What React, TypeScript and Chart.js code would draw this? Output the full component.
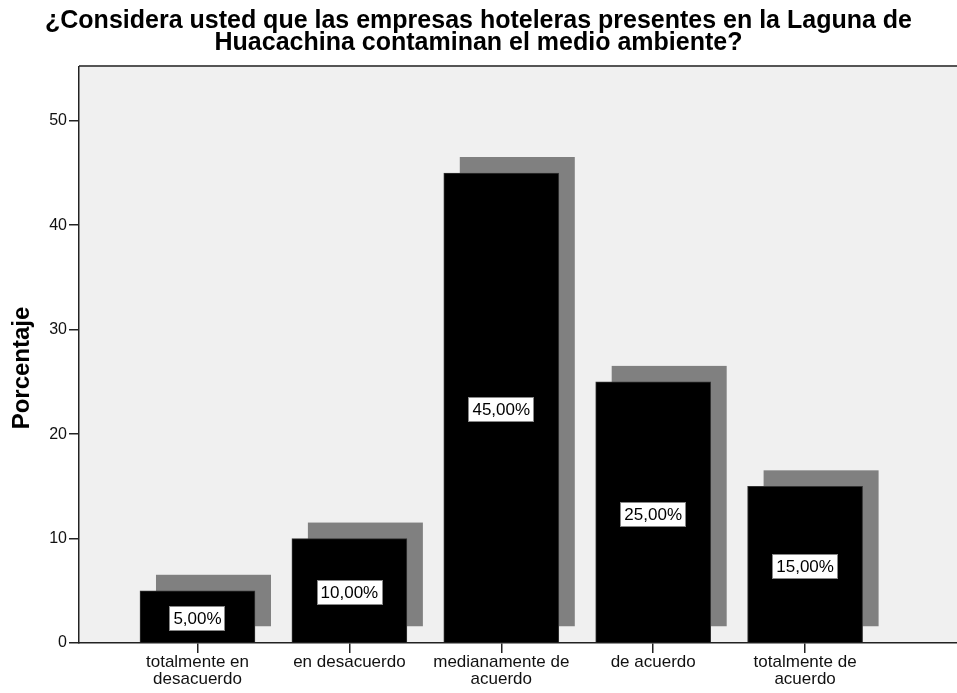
import React, { useEffect, useRef } from 'react';
import { Chart, registerables } from 'chart.js';

Chart.register(...registerables);

const categories: string[][] = [
  ['totalmente en', 'desacuerdo'],
  ['en desacuerdo'],
  ['medianamente de', 'acuerdo'],
  ['de acuerdo'],
  ['totalmente de', 'acuerdo'],
];
const percentages: number[] = [5, 10, 45, 25, 15];
const yTickValues: number[] = [0, 10, 20, 30, 40, 50];
const titleLines: string[] = [
  '¿Considera usted que las empresas hoteleras presentes en la Laguna de',
  'Huacachina contaminan el medio ambiente?',
];
const yAxisTitle = 'Porcentaje';

const FONT = "'Liberation Sans', Arial, Helvetica, sans-serif";

const formatPct = (v: number) => v.toFixed(2).replace('.', ',') + '%';

const backgroundPlugin = {
  id: 'plotBackground',
  beforeDraw(chart: any) {
    const { ctx, chartArea } = chart;
    if (!chartArea) return;
    ctx.save();
    ctx.fillStyle = '#f0f0f0';
    ctx.fillRect(chartArea.left, chartArea.top, chartArea.right - chartArea.left, chartArea.bottom - chartArea.top);
    ctx.fillStyle = '#555555';
    ctx.fillRect(chartArea.left, chartArea.top - 2, chartArea.right - chartArea.left, 2);
    ctx.restore();
  },
};

const yTitlePlugin = {
  id: 'yTitle',
  afterDraw(chart: any) {
    const { ctx, chartArea } = chart;
    if (!chartArea) return;
    ctx.save();
    ctx.translate(22, (chartArea.top + chartArea.bottom) / 2 + 13);
    ctx.rotate(-Math.PI / 2);
    ctx.font = `bold 24px ${FONT}`;
    ctx.fillStyle = '#000000';
    ctx.textAlign = 'center';
    ctx.textBaseline = 'middle';
    ctx.fillText(yAxisTitle, 0, 0);
    ctx.restore();
  },
};

const shadowPlugin = {
  id: 'barShadow',
  beforeDatasetsDraw(chart: any) {
    const { ctx } = chart;
    const meta = chart.getDatasetMeta(0);
    ctx.save();
    ctx.fillStyle = '#808080';
    meta.data.forEach((el: any) => {
      const { x, y, base, width } = el.getProps(['x', 'y', 'base', 'width'], true);
      ctx.fillRect(x - width / 2 + 16, y - 16, width, base - y);
    });
    ctx.restore();
  },
};

const valueLabelPlugin = {
  id: 'valueLabels',
  afterDatasetsDraw(chart: any) {
    const { ctx } = chart;
    const meta = chart.getDatasetMeta(0);
    ctx.save();
    ctx.font = `17px ${FONT}`;
    ctx.textAlign = 'center';
    ctx.textBaseline = 'middle';
    meta.data.forEach((el: any, i: number) => {
      const { x, y, base } = el.getProps(['x', 'y', 'base'], true);
      const text = formatPct(percentages[i]);
      const w = ctx.measureText(text).width + 8;
      const h = 25;
      const cy = (y + base) / 2 + 2;
      ctx.fillStyle = '#ffffff';
      ctx.fillRect(Math.round(x - w / 2), Math.round(cy - h / 2), Math.round(w), h);
      ctx.strokeStyle = '#888888';
      ctx.lineWidth = 1;
      ctx.strokeRect(Math.round(x - w / 2) + 0.5, Math.round(cy - h / 2) + 0.5, Math.round(w) - 1, h - 1);
      ctx.fillStyle = '#000000';
      ctx.fillText(text, x, cy + 1);
    });
    ctx.restore();
  },
};

export default function App() {
  const canvasRef = useRef<HTMLCanvasElement | null>(null);

  useEffect(() => {
    const canvas = canvasRef.current;
    if (!canvas) return;
    Chart.defaults.font.family = FONT;
    const chart = new Chart(canvas, {
      type: 'bar',
      data: {
        datasets: [
          {
            data: percentages.map((v, i) => ({ x: i, y: v })),
            backgroundColor: '#000000',
            borderColor: '#333333',
            borderWidth: 1,
            barThickness: 115,
          } as any,
        ],
      },
      options: {
        animation: false,
        responsive: false,
        devicePixelRatio: 1,
        layout: { padding: 0 },
        plugins: {
          legend: { display: false },
          tooltip: { enabled: false },
          title: {
            display: true,
            text: titleLines,
            color: '#000000',
            font: { size: 25, weight: 'bold', family: FONT, lineHeight: 0.88 },
            padding: { top: 10.5, bottom: 12.5 },
          },
        },
        scales: {
          x: {
            type: 'linear',
            min: -0.78,
            max: 5,
            offset: false,
            grid: {
              offset: false,
              drawOnChartArea: false,
              drawTicks: true,
              tickLength: 10,
              color: '#222222',
              lineWidth: 1.5,
            },
            border: { display: true, color: '#222222', width: 1.5 },
            afterBuildTicks: (scale: any) => {
              scale.ticks = categories.map((_, i) => ({ value: i }));
            },
            afterFit: (scale: any) => {
              scale.height = 50;
            },
            ticks: {
              autoSkip: false,
              maxRotation: 0,
              minRotation: 0,
              padding: 1,
              color: '#111111',
              font: { size: 17, family: FONT, lineHeight: 0.98 },
              callback: (value: any) => categories[Math.round(Number(value))] ?? '',
            },
          },
          y: {
            type: 'linear',
            min: 0,
            max: 55.15,
            grid: {
              drawOnChartArea: false,
              drawTicks: true,
              tickLength: 10,
              color: '#222222',
              lineWidth: 1.5,
            },
            border: { display: true, color: '#222222', width: 1.5 },
            afterBuildTicks: (scale: any) => {
              scale.ticks = yTickValues.map((v) => ({ value: v }));
            },
            afterFit: (scale: any) => {
              scale.width = 79;
            },
            ticks: {
              padding: 2,
              color: '#111111',
              font: { size: 16, family: FONT },
              callback: (value: any) => String(value),
            },
            title: { display: false },
          },
        },
      },
      plugins: [backgroundPlugin, shadowPlugin, valueLabelPlugin, yTitlePlugin],
    } as any);
    return () => chart.destroy();
  }, []);

  return (
    <div style={{ position: 'absolute', left: 0, top: 0, width: 957, height: 693, background: '#ffffff' }}>
      <canvas ref={canvasRef} width={957} height={693} style={{ display: 'block' }} />
    </div>
  );
}
